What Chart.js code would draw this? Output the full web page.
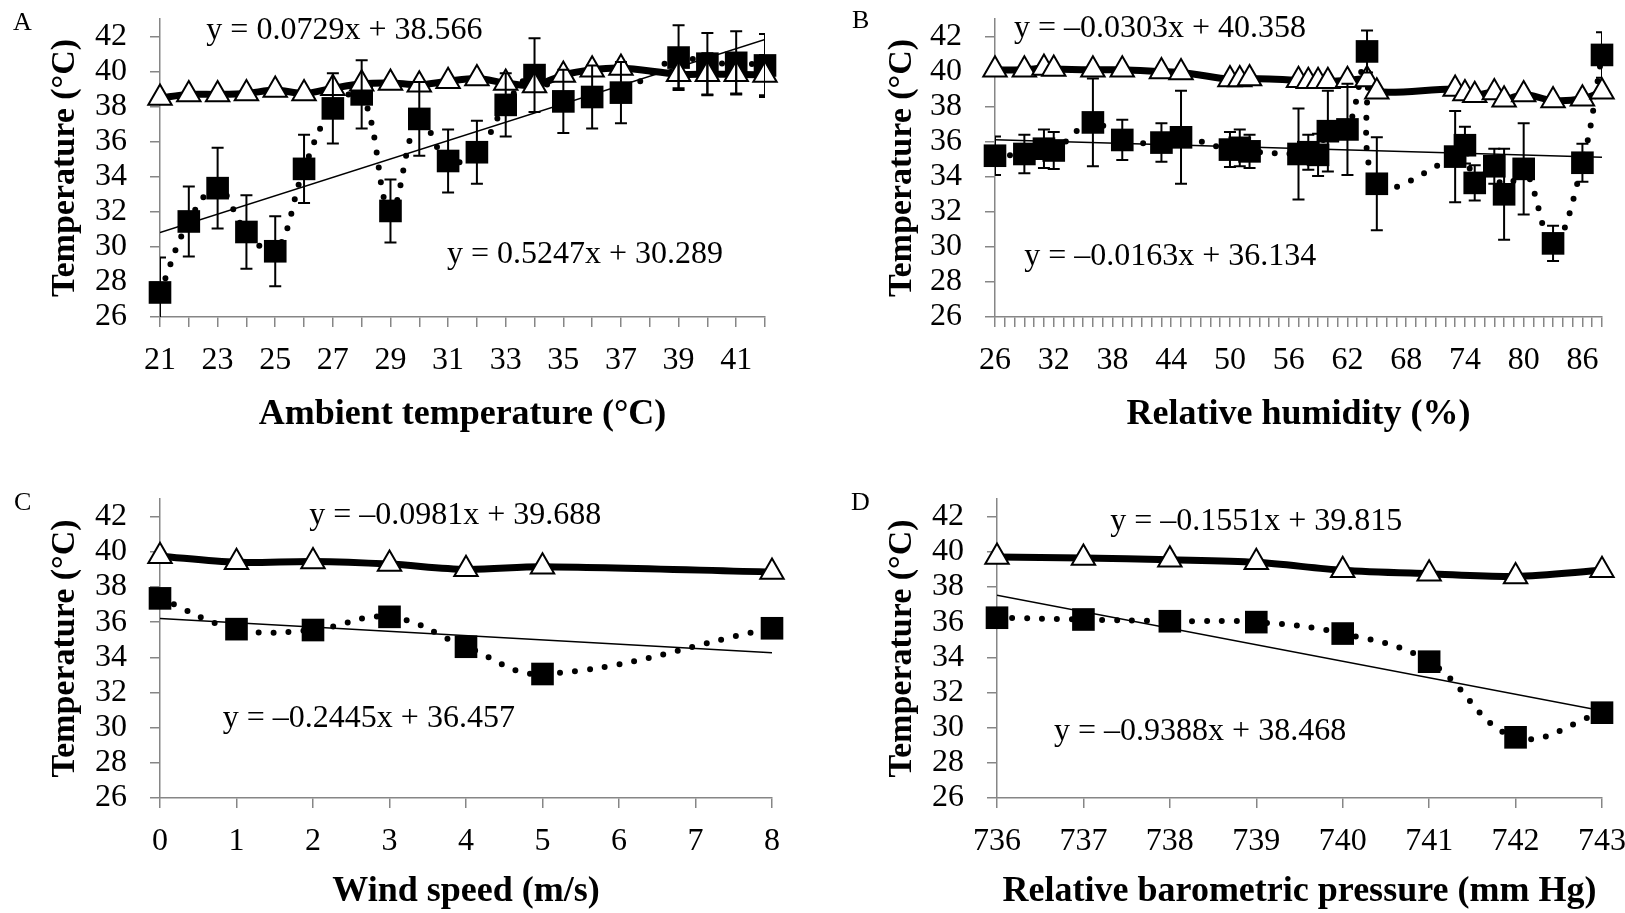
<!DOCTYPE html>
<html lang="en">
<head>
    <meta charset="UTF-8">
    <title>Temperature vs. weather conditions</title>
    <script src="https://cdn.jsdelivr.net/npm/chart.js"></script>
    <style>
        body {
            margin: 0;
            background: #fff;
            width: 1625px;
            height: 913px;
            overflow: hidden;
        }
        .panel {
            position: absolute;
        }
        .letter {
            position: absolute;
            font-family: 'Liberation Serif', 'Times New Roman', serif;
            font-size: 26px;
            line-height: 1;
            color: #000;
        }
    </style>
</head>
<body>
    <div class="panel" style="left:0;top:0;width:812px;height:456px"><canvas id="chartA"></canvas></div>
    <div class="panel" style="left:812px;top:0;width:813px;height:456px"><canvas id="chartB"></canvas></div>
    <div class="panel" style="left:0;top:456px;width:812px;height:457px"><canvas id="chartC"></canvas></div>
    <div class="panel" style="left:812px;top:456px;width:813px;height:457px"><canvas id="chartD"></canvas></div>

    <div class="letter" style="left:13px;top:9px">A</div>
    <div class="letter" style="left:852px;top:7px">B</div>
    <div class="letter" style="left:14px;top:489px">C</div>
    <div class="letter" style="left:851px;top:489px">D</div>

    <script>
        // A: ambient temperature (°C)
        const ambientX = [21, 22, 23, 24, 25, 26, 27, 28, 29, 30, 31, 32, 33, 34, 35, 36, 37, 39, 40, 41, 42];
        const ambientCore = [38.5, 38.7, 38.7, 38.75, 38.95, 38.75, 39.05, 39.3, 39.35, 39.25, 39.45, 39.6, 39.35, 39.2, 39.8, 40.1, 40.2, 39.85, 39.85, 39.85, 39.8];
        const ambientCoreSd = [null, null, null, null, null, null, null, null, null, null, null, null, null, null, null, null, null, 0.8, 1.2, 1.1, 1.15];
        const ambientSurface = [27.4, 31.45, 33.35, 30.85, 29.75, 34.45, 37.9, 38.7, 32.05, 37.3, 34.9, 35.4, 38.1, 39.8, 38.3, 38.55, 38.8, 40.8, 40.45, 40.5, 40.35];
        const ambientSurfaceSd = [2.0, 2.0, 2.3, 2.1, 2.0, 1.95, 2.0, 1.95, 1.8, 2.1, 1.8, 1.8, 1.8, 2.1, 1.8, 1.8, 1.75, 1.85, 1.75, 1.8, 1.8];
        const ambientCoreFit = [0.0729, 38.566];
        const ambientSurfaceFit = [0.5247, 30.289];

        // B: relative humidity (%)
        const humidityX = [26, 29, 31, 32, 36, 39, 43, 45, 50, 51, 52, 57, 58, 59, 60, 62, 64, 65, 73, 74, 75, 77, 78, 80, 83, 86, 88];
        const humidityCore = [40.1, 40.1, 40.2, 40.15, 40.1, 40.1, 40.0, 39.95, 39.55, 39.55, 39.6, 39.5, 39.45, 39.45, 39.45, 39.5, 39.55, 38.85, 39.0, 38.75, 38.65, 38.8, 38.4, 38.7, 38.35, 38.45, 38.85];
        const humiditySurface = [35.2, 35.3, 35.6, 35.5, 37.1, 36.1, 35.95, 36.25, 35.55, 35.65, 35.45, 35.3, 35.4, 35.25, 36.6, 36.7, 41.15, 33.6, 35.15, 35.8, 33.65, 34.6, 33.0, 34.45, 30.2, 34.8, 40.95];
        const humiditySurfaceSd = [1.1, 1.1, 1.1, 1.05, 2.5, 1.15, 1.1, 2.65, 1.0, 1.05, 0.95, 2.6, 1.0, 1.2, 2.3, 2.6, 1.2, 2.65, 2.6, 1.05, 1.0, 1.0, 2.6, 2.6, 1.0, 1.08, 1.3];
        const humidityCoreFit = [-0.0303, 40.358];
        const humiditySurfaceFit = [-0.0163, 36.134];

        // C: wind speed (m/s)
        const windX = [0, 1, 2, 3, 4, 5, 8];
        const windCore = [39.75, 39.4, 39.45, 39.3, 39.0, 39.15, 38.85];
        const windSurface = [37.35, 35.6, 35.55, 36.3, 34.6, 33.05, 35.65];
        const windCoreFit = [-0.0981, 39.688];
        const windSurfaceFit = [-0.2445, 36.457];

        // D: relative barometric pressure (mm Hg)
        const pressureX = [736, 737, 738, 739, 740, 741, 742, 743];
        const pressureCore = [39.7, 39.65, 39.55, 39.4, 38.95, 38.75, 38.6, 38.95];
        const pressureSurface = [36.25, 36.15, 36.05, 36.0, 35.35, 33.75, 29.45, 30.85];
        const pressureCoreFit = [-0.1551, 39.815];
        const pressureSurfaceFit = [-0.9388, 38.468];

        const yTicks = [26, 28, 30, 32, 34, 36, 38, 40, 42];

        Chart.defaults.font.family = "'Liberation Serif', 'Times New Roman', serif";
        Chart.defaults.color = '#000';

        const axisGrey = '#868686';

        function fitText(fit) {
            const m = fit[0], b = fit[1];
            return 'y = ' + (m < 0 ? '\u2013' : '') + Math.abs(m).toFixed(4) + 'x + ' + b.toFixed(3);
        }

        // vertical error bars with caps, for any dataset carrying an `errors` array
        const errorBars = {
            id: 'errorBars',
            afterDatasetsDraw(chart) {
                const {ctx, chartArea, scales: {x, y}} = chart;
                ctx.save();
                ctx.beginPath();
                ctx.rect(chartArea.left, chartArea.top, chartArea.width, chartArea.height);
                ctx.clip();
                ctx.strokeStyle = '#000';
                ctx.lineWidth = 2;
                chart.data.datasets.forEach(ds => {
                    if (!ds.errors) return;
                    ds.data.forEach((p, i) => {
                        const e = ds.errors[i];
                        if (e == null) return;
                        const px = x.getPixelForValue(p.x);
                        const top = y.getPixelForValue(p.y + e);
                        const bot = y.getPixelForValue(p.y - e);
                        ctx.beginPath();
                        ctx.moveTo(px, top); ctx.lineTo(px, bot);
                        ctx.moveTo(px - 6, top); ctx.lineTo(px + 6, top);
                        ctx.moveTo(px - 6, bot); ctx.lineTo(px + 6, bot);
                        ctx.stroke();
                    });
                });
                ctx.restore();
            }
        };

        // regression equations placed in data coordinates
        const fitLabels = {
            id: 'fitLabels',
            afterDraw(chart, args, opts) {
                const {ctx, scales: {x, y}} = chart;
                ctx.save();
                ctx.font = "32px 'Liberation Serif', 'Times New Roman', serif";
                ctx.fillStyle = '#000';
                ctx.textAlign = 'center';
                ctx.textBaseline = 'middle';
                (opts.items || []).forEach(it => {
                    ctx.fillText(it.text, x.getPixelForValue(it.x), y.getPixelForValue(it.y));
                });
                ctx.restore();
            }
        };

        function buildPanel(id, p) {
            const fitAt = x => p.surfaceFit[1] + p.surfaceFit[0] * (x - p.xMin + 1);
            const xTicks = [];
            for (let v = p.xMin; v <= p.xMax; v++) xTicks.push(v);

            return new Chart(document.getElementById(id), {
                type: 'scatter',
                data: {
                    datasets: [
                        {
                            // core temperature: open triangles on a heavy line
                            data: p.x.map((x, i) => ({x: x, y: p.core[i]})),
                            showLine: true,
                            borderColor: '#000',
                            borderWidth: 7,
                            tension: 0.3,
                            pointStyle: 'triangle',
                            pointRadius: 13.5,
                            pointBackgroundColor: '#fff',
                            pointBorderColor: '#000',
                            pointBorderWidth: 2,
                            errors: p.coreSd,
                            clip: false
                        },
                        {
                            // surface temperature: filled squares on a dotted smooth line
                            data: p.x.map((x, i) => ({x: x, y: p.surface[i]})),
                            showLine: true,
                            borderColor: '#000',
                            borderWidth: 6,
                            borderDash: [0, 15],
                            borderCapStyle: 'round',
                            tension: 0.4,
                            pointStyle: 'rect',
                            pointRadius: 16,
                            pointBackgroundColor: '#000',
                            pointBorderWidth: 0,
                            errors: p.surfaceSd,
                            clip: false
                        },
                        {
                            // linear trend of surface temperature
                            data: [{x: p.xMin, y: fitAt(p.xMin)}, {x: p.xMax, y: fitAt(p.xMax)}],
                            showLine: true,
                            borderColor: '#000',
                            borderWidth: 1.5,
                            pointRadius: 0
                        }
                    ]
                },
                options: {
                    responsive: true,
                    maintainAspectRatio: false,
                    animation: false,
                    events: [],
                    layout: {
                        padding: {left: 0, top: p.padTop, right: p.padRight, bottom: 0}
                    },
                    plugins: {
                        legend: {display: false},
                        tooltip: {enabled: false},
                        fitLabels: {items: p.labels}
                    },
                    scales: {
                        x: {
                            type: 'linear',
                            min: p.xMin,
                            max: p.xMax,
                            afterBuildTicks: s => { s.ticks = xTicks.map(v => ({value: v})); },
                            afterFit: s => { s.height = p.xHeight; s.paddingLeft = 0; s.paddingRight = 0; },
                            ticks: {
                                autoSkip: false,
                                maxRotation: 0,
                                padding: 14,
                                font: {size: 32},
                                callback: v => ((v - p.xMin) % p.labelStep === 0 ? String(v) : '')
                            },
                            grid: {drawOnChartArea: false, tickLength: 10, color: axisGrey, lineWidth: 1.5},
                            border: {color: axisGrey, width: 1.5},
                            title: {
                                display: true,
                                text: p.xTitle,
                                font: {size: 36, weight: 'bold'},
                                padding: {top: 0, bottom: p.xTitlePad}
                            }
                        },
                        y: {
                            min: 26,
                            max: 43,
                            afterBuildTicks: s => { s.ticks = yTicks.map(v => ({value: v})); },
                            afterFit: s => { s.width = p.yWidth; s.paddingTop = 0; s.paddingBottom = 0; },
                            ticks: {autoSkip: false, padding: 23, font: {size: 32}},
                            grid: {drawOnChartArea: false, tickLength: 10, color: axisGrey, lineWidth: 1.5},
                            border: {color: axisGrey, width: 1.5},
                            title: {
                                display: true,
                                text: 'Temperature (°C)',
                                font: {size: 34, weight: 'bold'},
                                padding: {top: p.yTitlePad, bottom: 0}
                            }
                        }
                    }
                },
                plugins: [errorBars, fitLabels]
            });
        }

        buildPanel('chartA', {
            x: ambientX, core: ambientCore, coreSd: ambientCoreSd,
            surface: ambientSurface, surfaceSd: ambientSurfaceSd, surfaceFit: ambientSurfaceFit,
            xMin: 21, xMax: 42, labelStep: 2,
            xTitle: 'Ambient temperature (°C)',
            padTop: 19, padRight: 47, xHeight: 139, yWidth: 160, yTitlePad: 45, xTitlePad: 20,
            labels: [
                {text: fitText(ambientCoreFit), x: 27.4, y: 42.35},
                {text: fitText(ambientSurfaceFit), x: 35.75, y: 29.55}
            ]
        });

        buildPanel('chartB', {
            x: humidityX, core: humidityCore, coreSd: null,
            surface: humiditySurface, surfaceSd: humiditySurfaceSd, surfaceFit: humiditySurfaceFit,
            xMin: 26, xMax: 88, labelStep: 6,
            xTitle: 'Relative humidity (%)',
            padTop: 19, padRight: 23, xHeight: 139, yWidth: 183, yTitlePad: 70, xTitlePad: 20,
            labels: [
                {text: fitText(humidityCoreFit), x: 42.85, y: 42.45},
                {text: fitText(humiditySurfaceFit), x: 43.9, y: 29.45}
            ]
        });

        buildPanel('chartC', {
            x: windX, core: windCore, coreSd: null,
            surface: windSurface, surfaceSd: null, surfaceFit: windSurfaceFit,
            xMin: 0, xMax: 8, labelStep: 1,
            xTitle: 'Wind speed (m/s)',
            padTop: 43, padRight: 40, xHeight: 115, yWidth: 160, yTitlePad: 45, xTitlePad: 0,
            labels: [
                {text: fitText(windCoreFit), x: 3.86, y: 42.05},
                {text: fitText(windSurfaceFit), x: 2.73, y: 30.5}
            ]
        });

        buildPanel('chartD', {
            x: pressureX, core: pressureCore, coreSd: null,
            surface: pressureSurface, surfaceSd: null, surfaceFit: pressureSurfaceFit,
            xMin: 736, xMax: 743, labelStep: 1,
            xTitle: 'Relative barometric pressure (mm Hg)',
            padTop: 43, padRight: 23, xHeight: 115, yWidth: 185, yTitlePad: 70, xTitlePad: 0,
            labels: [
                {text: fitText(pressureCoreFit), x: 739.0, y: 41.7},
                {text: fitText(pressureSurfaceFit), x: 738.35, y: 29.8}
            ]
        });
    </script>
</body>
</html>
